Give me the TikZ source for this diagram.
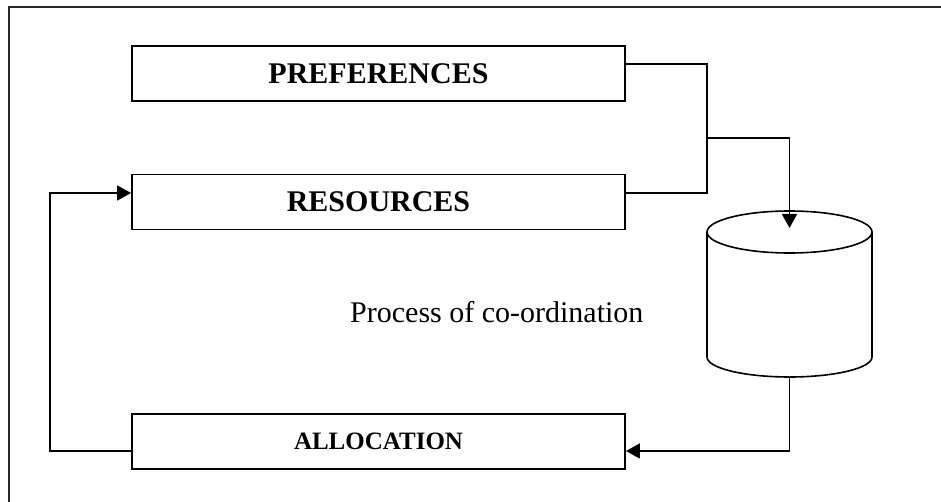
\documentclass[tikz,border=0pt]{standalone}
\usepackage{fontspec}
\setmainfont{Liberation Serif}
\usetikzlibrary{arrows.meta}
\begin{document}
\begin{tikzpicture}[x=1pt,y=-1pt,
  stagebox/.style={draw, line width=1.8pt, minimum width=493pt, minimum height=55pt,
                   inner sep=0pt, font=\bfseries\fontsize{30}{30}\selectfont},
  link/.style={line width=1.6pt},
  flow/.style={link, -{Triangle[length=14pt,width=15pt]}},
  frame/.style={line width=2.2pt, black!85}]
  \useasboundingbox (0,0) rectangle (941,502);

  % outer frame
  \draw[frame] (9,502) -- (9,7) -- (941,7);

  % stage boxes
  \node[stagebox] (pref)  at (378.5,73.5)  {PREFERENCES};
  \node[stagebox] (res)   at (378.5,202)   {RESOURCES};
  \node[stagebox, font=\bfseries\fontsize{25}{25}\selectfont] (alloc) at (378.5,441.5) {ALLOCATION};

  % co-ordination store (vertical cylinder)
  \coordinate (cylTop) at (789.5,232);
  \coordinate (cylBot) at (789.5,357);
  \draw[link] (cylTop) ellipse [x radius=82.5pt, y radius=21pt];
  \draw[link] ([xshift=-82.5pt]cylTop) -- ([xshift=-82.5pt]cylBot)
     arc[start angle=180, end angle=360, x radius=82.5pt, y radius=20pt]
     -- ([xshift=82.5pt]cylTop);
  \coordinate (cylIn)  at (789.5,228);
  \coordinate (cylOut) at (789.5,377);

  \node[anchor=base west, font=\fontsize{30}{30}\selectfont, inner sep=0pt] (proc) at (350,322) {Process of co-ordination};

  % inputs merging into the store
  \coordinate (busTop) at (707,64);
  \coordinate (busBot) at (707,193);
  \coordinate (bus)    at (707,138);
  \draw[link] (pref.east |- busTop) -- (busTop) -- (busBot) -- (res.east |- busBot);
  \draw[flow] (bus) -| (cylIn);

  % output to allocation and feedback to resources
  \coordinate (outY) at (0,451);
  \draw[flow] (cylOut) |- (alloc.east |- outY);
  \coordinate (loopL) at (50,451);
  \coordinate (loopU) at (50,193);
  \draw[flow] (alloc.west |- outY) -- (loopL) -- (loopU) -- (res.west |- loopU);
\end{tikzpicture}
\end{document}
